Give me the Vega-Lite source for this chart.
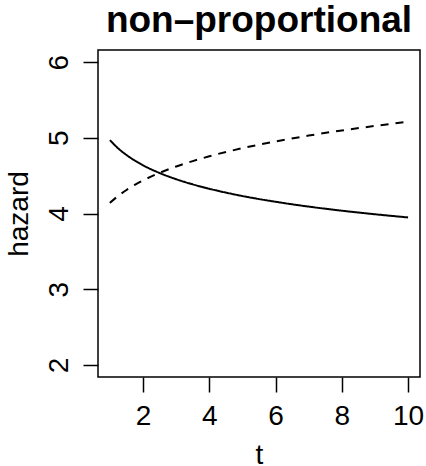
{
  "$schema": "https://vega.github.io/schema/vega-lite/v6.json",
  "autosize": "none",
  "width": 322,
  "height": 327,
  "padding": {"left": 98, "top": 50, "right": 6, "bottom": 89},
  "background": "white",
  "title": {"text": "non\u2013proportional", "font": "Liberation Sans", "fontSize": 37, "fontWeight": "bold", "color": "black", "anchor": "middle", "baseline": "alphabetic", "offset": -19},
  "config": {
    "view": {"stroke": "black", "strokeWidth": 1.5},
    "axis": {"domain": false, "grid": false, "tickColor": "black", "tickWidth": 1.5, "tickSize": 15, "labelFont": "Liberation Sans", "labelFontSize": 28, "labelColor": "black", "titleFont": "Liberation Sans", "titleFontSize": 28, "titleFontWeight": "normal", "titleColor": "black"}
  },
  "data": {"values": [
    {"t": 1, "hazard": 4.970, "curve": "solid"},
    {"t": 1.25, "hazard": 4.860, "curve": "solid"},
    {"t": 1.5, "hazard": 4.773, "curve": "solid"},
    {"t": 1.75, "hazard": 4.700, "curve": "solid"},
    {"t": 2, "hazard": 4.637, "curve": "solid"},
    {"t": 2.5, "hazard": 4.535, "curve": "solid"},
    {"t": 3, "hazard": 4.453, "curve": "solid"},
    {"t": 3.5, "hazard": 4.385, "curve": "solid"},
    {"t": 4, "hazard": 4.327, "curve": "solid"},
    {"t": 5, "hazard": 4.231, "curve": "solid"},
    {"t": 6, "hazard": 4.155, "curve": "solid"},
    {"t": 7, "hazard": 4.091, "curve": "solid"},
    {"t": 8, "hazard": 4.037, "curve": "solid"},
    {"t": 9, "hazard": 3.990, "curve": "solid"},
    {"t": 10, "hazard": 3.948, "curve": "solid"},
    {"t": 1, "hazard": 4.140, "curve": "dashed"},
    {"t": 1.25, "hazard": 4.233, "curve": "dashed"},
    {"t": 1.5, "hazard": 4.311, "curve": "dashed"},
    {"t": 1.75, "hazard": 4.378, "curve": "dashed"},
    {"t": 2, "hazard": 4.437, "curve": "dashed"},
    {"t": 2.5, "hazard": 4.537, "curve": "dashed"},
    {"t": 3, "hazard": 4.621, "curve": "dashed"},
    {"t": 3.5, "hazard": 4.692, "curve": "dashed"},
    {"t": 4, "hazard": 4.756, "curve": "dashed"},
    {"t": 5, "hazard": 4.863, "curve": "dashed"},
    {"t": 6, "hazard": 4.952, "curve": "dashed"},
    {"t": 7, "hazard": 5.029, "curve": "dashed"},
    {"t": 8, "hazard": 5.097, "curve": "dashed"},
    {"t": 9, "hazard": 5.157, "curve": "dashed"},
    {"t": 10, "hazard": 5.212, "curve": "dashed"}
  ]},
  "mark": {"type": "line", "color": "black", "strokeWidth": 2, "interpolate": "monotone"},
  "encoding": {
    "x": {"field": "t", "type": "quantitative", "scale": {"domain": [0.64, 10.36], "nice": false, "zero": false},
      "axis": {"values": [2, 4, 6, 8, 10], "title": "t", "labelPadding": 10, "titlePadding": 11}},
    "y": {"field": "hazard", "type": "quantitative", "scale": {"domain": [1.84, 6.16], "nice": false, "zero": false},
      "axis": {"values": [2, 3, 4, 5, 6], "title": "hazard", "labelAngle": -90, "labelAlign": "center", "labelBaseline": "alphabetic", "labelPadding": 16, "titlePadding": 12}},
    "detail": {"field": "curve"},
    "strokeDash": {"field": "curve", "type": "nominal", "scale": {"domain": ["solid", "dashed"], "range": [[1, 0], [8, 7]]}, "legend": null}
  }
}
